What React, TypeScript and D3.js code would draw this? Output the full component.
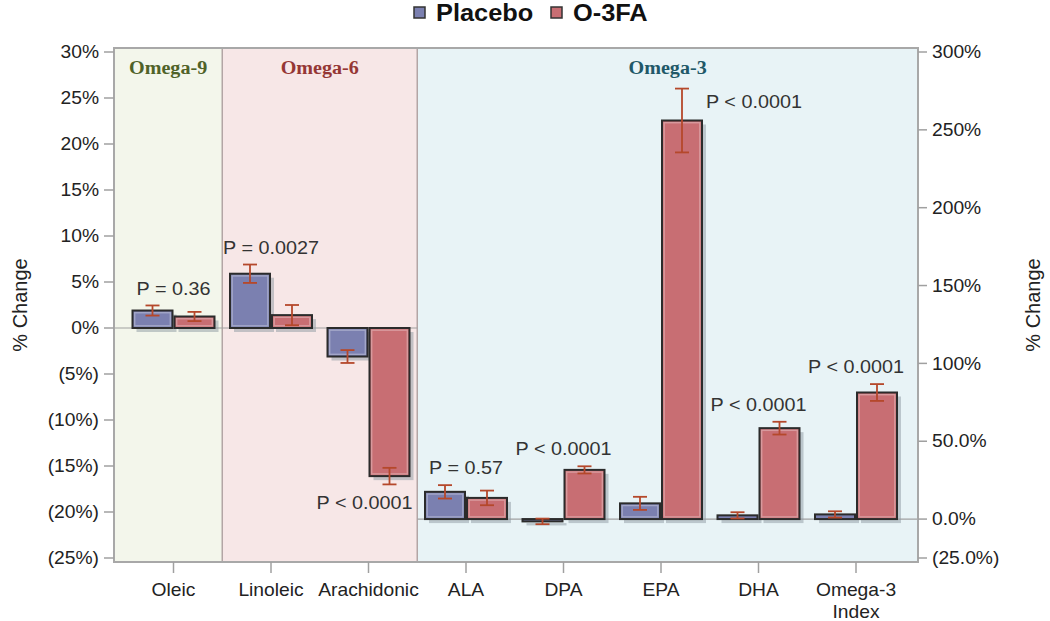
import React from "react";
import * as d3 from "d3";

const categories = ["Oleic", "Linoleic", "Arachidonic", "ALA", "DPA", "EPA", "DHA", "Omega-3 Index"];
const axisSide = ["left", "left", "left", "right", "right", "right", "right", "right"];
const placeboValues = [1.9, 5.9, -3.1, 17.5, -1.5, 10.1, 2.4, 3.0];
const placeboErr = [0.55, 1.0, 0.7, 4.3, 1.8, 4.2, 2.0, 2.0];
const o3faValues = [1.25, 1.4, -16.1, 13.6, 31.6, 256, 58.4, 81.3];
const o3faErr = [0.5, 1.1, 0.9, 4.7, 2.3, 20.5, 4.1, 5.4];
const pLabels = ["P = 0.36", "P = 0.0027", "P < 0.0001", "P = 0.57", "P < 0.0001", "P < 0.0001", "P < 0.0001", "P < 0.0001"];
const pPlacement = ["above", "above", "below", "above", "above", "right", "above", "above"];

const groupNames = ["Omega-9", "Omega-6", "Omega-3"];
const groupStart = [0, 1, 3];
const groupEnd = [0, 2, 7];
const groupFill = ["#f3f6eb", "#f7e7e7", "#e8f3f6"];
const groupText = ["#4f6228", "#953735", "#215868"];

const leftTicks = [-25, -20, -15, -10, -5, 0, 5, 10, 15, 20, 25, 30];
const rightTicks = [-25, 0, 50, 100, 150, 200, 250, 300];
const rightTickLabels = ["(25.0%)", "0.0%", "50.0%", "100%", "150%", "200%", "250%", "300%"];

const seriesNames = ["Placebo", "O-3FA"];
const seriesFill = ["#7b80b0", "#c86e73"];

const SANS = "'Liberation Sans', Arial, Helvetica, sans-serif";
const SERIF = "'Liberation Serif', 'Times New Roman', serif";

const W = 1050, H = 621;
const box = { l: 114, r: 918, t: 48, b: 562 };

function T({ x, y, children, size = 17.5, anchor = "middle", weight = "normal", family = SANS, fill = "#222", sx = 1.1, rotate = 0 }: any) {
  return (
    <text
      transform={`translate(${x},${y}) rotate(${rotate}) scale(${sx},1)`}
      textAnchor={anchor}
      dominantBaseline="central"
      fontFamily={family}
      fontSize={size}
      fontWeight={weight}
      fill={fill}
    >
      {children}
    </text>
  );
}

const fmtLeft = (v: number) => (v < 0 ? `(${Math.abs(v)}%)` : `${v}%`);

export default function App() {
  const x = d3.scalePoint<string>().domain(categories).range([173.5, 856]);
  const step = x.step();
  const yL = d3.scaleLinear().domain([-25, 30]).range([558, 52]);
  const yR = d3.scaleLinear().domain([-25, 300]).range([558, 52]);
  const yOf = (i: number) => (axisSide[i] === "left" ? yL : yR);

  const barW = 40, gap = 1;
  const errColor = "#b5482b";

  const regions = groupNames.map((g, gi) => {
    const x0 = gi === 0 ? box.l : (x(categories[groupStart[gi]])! - step / 2);
    const x1 = gi === groupNames.length - 1 ? box.r : (x(categories[groupEnd[gi]])! + step / 2);
    return { g, gi, x0, x1 };
  });

  const leftEnd = regions[1].x1;

  const bars: any[] = [];
  categories.forEach((c, i) => {
    const y = yOf(i);
    const cx = x(c)!;
    [placeboValues, o3faValues].forEach((vals, s) => {
      const v = vals[i];
      const e = s === 0 ? placeboErr[i] : o3faErr[i];
      const bx = s === 0 ? cx - gap - barW : cx + gap;
      const y0 = y(0), yv = y(v);
      bars.push({ i, s, v, e, bx, top: Math.min(y0, yv), h: Math.abs(y0 - yv), cxBar: bx + barW / 2, yHi: y(v + e), yLo: y(v - e) });
    });
  });

  return (
    <svg width={W} height={H} style={{ display: "block", position: "absolute", left: 0, top: 0 }}>
      <rect x={0} y={0} width={W} height={H} fill="#fff" />
      {/* legend */}
      {seriesNames.map((n, s) => {
        const lx = s === 0 ? 414 : 551;
        return (
          <g key={n}>
            <rect x={lx} y={7} width={11} height={11} fill={seriesFill[s]} stroke="#333" strokeWidth={1.5} />
            <T x={lx + 22} y={13} size={23.5} weight="bold" anchor="start" fill="#111" sx={1.08}>{n}</T>
          </g>
        );
      })}
      {/* regions */}
      {regions.map(r => (
        <g key={r.g}>
          <rect x={r.x0} y={box.t} width={r.x1 - r.x0} height={box.b - box.t} fill={groupFill[r.gi]} />
          <T x={(r.x0 + r.x1) / 2} y={68} size={19} weight="bold" family={SERIF} fill={groupText[r.gi]} sx={1.06}>{r.g}</T>
        </g>
      ))}
      {regions.slice(1).map(r => (
        <line key={"sep" + r.g} x1={r.x0} x2={r.x0} y1={box.t} y2={box.b} stroke="#b3a5a5" strokeWidth={1.5} />
      ))}
      {/* zero lines */}
      <line x1={box.l} x2={leftEnd} y1={yL(0)} y2={yL(0)} stroke="#a0a0a0" strokeWidth={1.2} />
      <line x1={leftEnd} x2={box.r} y1={yR(0)} y2={yR(0)} stroke="#a0a0a0" strokeWidth={1.2} />
      {/* box */}
      <rect x={box.l} y={box.t} width={box.r - box.l} height={box.b - box.t} fill="none" stroke="#a8a8a8" strokeWidth={2} />
      {/* bar shadows */}
      {bars.map((b, k) => (
        <rect key={"sh" + k} x={b.bx + 4} y={b.top + 4} width={barW} height={Math.max(b.h, 1)} fill="#8e9aa2" opacity={0.5} />
      ))}
      {/* bars */}
      {bars.map((b, k) => (
        <g key={"b" + k}>
          <rect x={b.bx} y={b.top} width={barW} height={Math.max(b.h, 1)} fill={seriesFill[b.s]} stroke="#2b2b2b" strokeWidth={2} />
          {b.h > 6 && (
            <rect x={b.bx + 2.2} y={b.top + 2.2} width={barW - 4.4} height={b.h - 4.4} fill="none" stroke="#ffffff" strokeOpacity={0.3} strokeWidth={1.4} />
          )}
        </g>
      ))}
      {/* error bars */}
      {bars.map((b, k) => (
        <g key={"e" + k} stroke={errColor} strokeWidth={1.8}>
          <line x1={b.cxBar} x2={b.cxBar} y1={b.yHi} y2={b.yLo} />
          <line x1={b.cxBar - 7} x2={b.cxBar + 7} y1={b.yHi} y2={b.yHi} />
          <line x1={b.cxBar - 7} x2={b.cxBar + 7} y1={b.yLo} y2={b.yLo} />
        </g>
      ))}
      {/* P labels */}
      {categories.map((c, i) => {
        const y = yOf(i);
        const cx = x(c)!;
        const hi = Math.max(placeboValues[i] + placeboErr[i], o3faValues[i] + o3faErr[i]);
        const lo = Math.min(placeboValues[i] - placeboErr[i], o3faValues[i] - o3faErr[i]);
        if (pPlacement[i] === "above") {
          return <T key={"p" + i} x={cx} y={y(hi) - 17} size={18} fill="#333">{pLabels[i]}</T>;
        } else if (pPlacement[i] === "below") {
          return <T key={"p" + i} x={cx + gap + barW + 3} y={y(lo) + 18} size={18} fill="#333" anchor="end">{pLabels[i]}</T>;
        }
        return <T key={"p" + i} x={cx + gap + barW + 4} y={y(hi) + 13} size={18} fill="#333" anchor="start">{pLabels[i]}</T>;
      })}
      {/* left axis */}
      {leftTicks.map(t => (
        <g key={"lt" + t}>
          <line x1={box.l - 10} x2={box.l} y1={yL(t)} y2={yL(t)} stroke="#a0a0a0" strokeWidth={1.5} />
          <T x={box.l - 15} y={yL(t)} anchor="end">{fmtLeft(t)}</T>
        </g>
      ))}
      {/* right axis */}
      {rightTicks.map((t, k) => (
        <g key={"rt" + t}>
          <line x1={box.r} x2={box.r + 9} y1={yR(t)} y2={yR(t)} stroke="#a0a0a0" strokeWidth={1.5} />
          <T x={box.r + 14} y={yR(t)} anchor="start">{rightTickLabels[k]}</T>
        </g>
      ))}
      {/* x axis */}
      {categories.map(c => {
        const parts = c === "Omega-3 Index" ? ["Omega-3", "Index"] : [c];
        return (
          <g key={"x" + c}>
            <line x1={x(c)} x2={x(c)} y1={box.b} y2={box.b + 11} stroke="#a0a0a0" strokeWidth={1.5} />
            {parts.map((p, j) => (
              <T key={p} x={x(c)!} y={590 + j * 22}>{p}</T>
            ))}
          </g>
        );
      })}
      {/* axis titles */}
      <T x={20} y={305} size={20} rotate={-90} sx={1}>% Change</T>
      <T x={1033} y={305} size={20} rotate={-90} sx={1}>% Change</T>
    </svg>
  );
}
